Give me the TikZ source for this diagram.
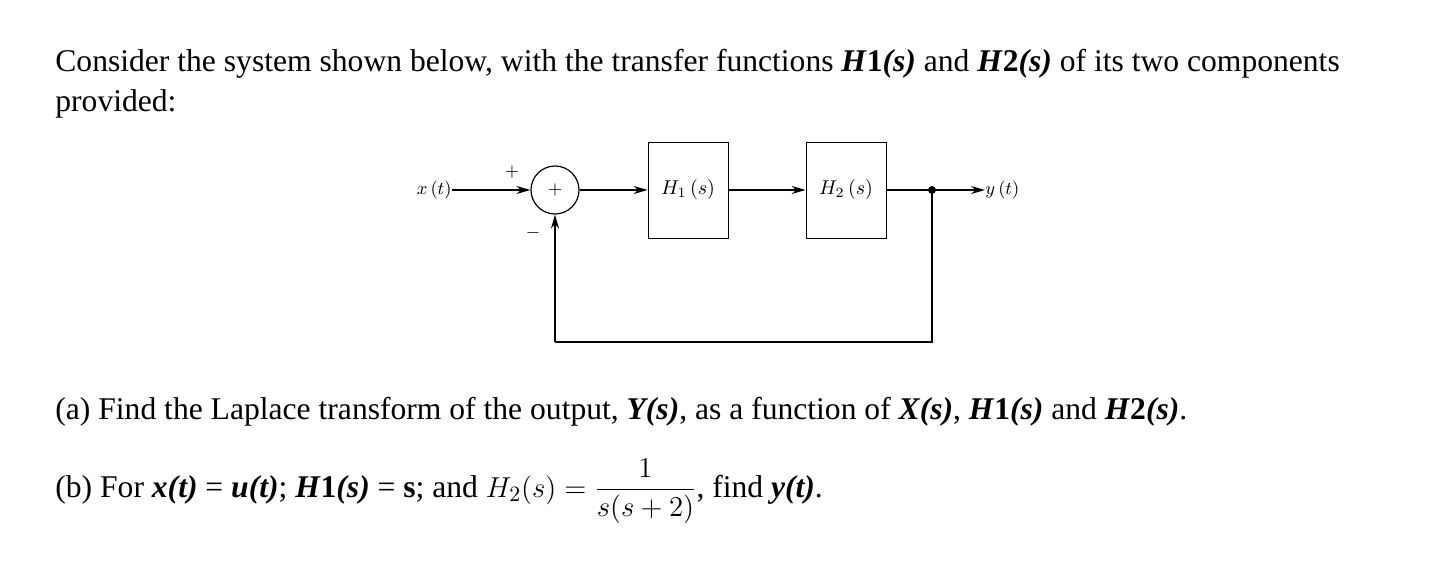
\documentclass[tikz,border=0pt]{standalone}
\usepackage{fontspec}
\setmainfont{Liberation Serif}
\usetikzlibrary{arrows.meta}
\begin{document}
\begin{tikzpicture}[x=0.5pt,y=-0.5pt,
  txt/.style={anchor=base west,inner sep=0pt,font=\fontsize{15.8}{18}\selectfont},
  blk/.style={draw,minimum width=40pt,minimum height=48pt,inner sep=0pt,font=\fontsize{10}{12}\selectfont},
  sig/.style={inner sep=0pt,font=\fontsize{9.5}{11}\selectfont},
  conn/.style={line width=0.6pt,-{Stealth[length=7pt,width=4pt]}},
  ln/.style={line width=0.6pt}]
\useasboundingbox (0,0) rectangle (1444,576);
\node[txt] (l1) at (55,72) {Consider the system shown below, with the transfer functions \textbf{\textit{H}1\textit{(s)}} and \textbf{\textit{H}2\textit{(s)}} of its two components};
\node[txt] (l2) at (55,112) {provided:};
\node[sig,anchor=east] (x) at (452,190) {$x\,(t)$};
\node[draw,circle,minimum size=24pt,inner sep=0pt,line width=0.6pt,font=\fontsize{9.5}{11}\selectfont] (sum) at (555,190) {$+$};
\node[sig] (pl) at (512,172) {$+$};
\node[sig] (mi) at (533,233) {$-$};
\node[blk] (h1) at (688,190) {$H_1\,(s)$};
\node[blk] (h2) at (846,190) {$H_2\,(s)$};
\coordinate (j) at (932,190);
\node[sig,anchor=west] (y) at (985,190) {$y\,(t)$};
\coordinate (b1) at (932,342);
\coordinate (b2) at (555,342);
\fill (j) circle (4);
\draw[conn] (x) -- (sum);
\draw[conn] (sum) -- (h1);
\draw[conn] (h1) -- (h2);
\draw[ln] (h2) -- (j);
\draw[conn] (j) -- (y);
\draw[ln] (j) -- (b1) -- (b2);
\draw[conn] (b2) -- (sum);
\node[txt] (a) at (55,420) {(a) Find the Laplace transform of the output, \textbf{\textit{Y(s)}}, as a function of \textbf{\textit{X(s)}}, \textbf{\textit{H}1\textit{(s)}} and \textbf{\textit{H}2\textit{(s)}}.};
\node[txt] (b) at (55,497) {(b) For \textbf{\textit{x(t)}} = \textbf{\textit{u(t)}}; \textbf{\textit{H}1\textit{(s)}} = \textbf{s}; and $H_2(s)=\displaystyle\frac{1}{s(s+2)}$, find \textbf{\textit{y(t)}}.};
\end{tikzpicture}
\end{document}
